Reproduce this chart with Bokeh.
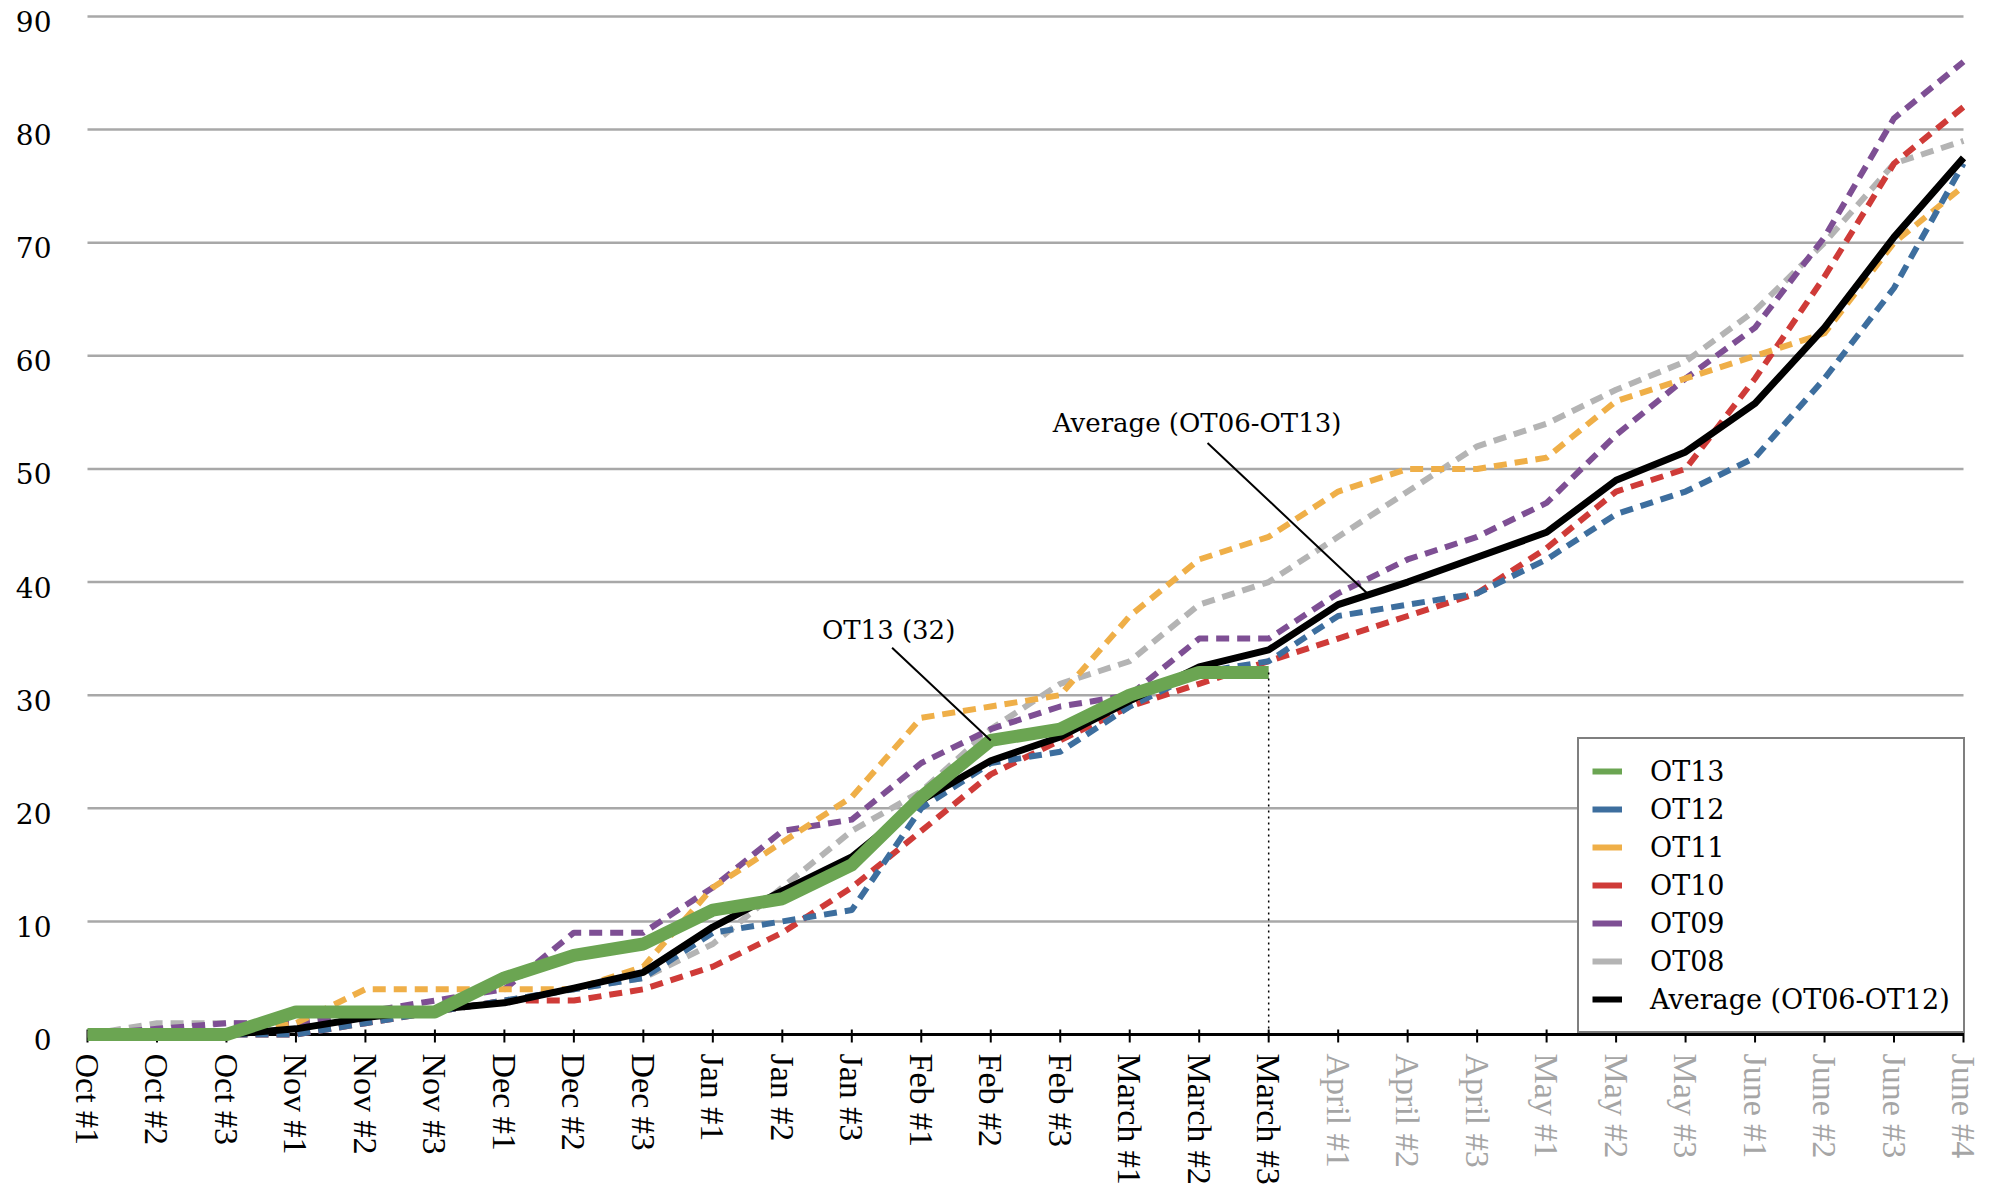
import math
from bokeh.plotting import figure
from bokeh.models import Range1d, Legend, LegendItem, Label, ColumnDataSource
from bokeh.core.properties import value
from bokeh.embed import file_html
from bokeh.resources import INLINE

# ---------------- data ----------------
labels = ["Oct #1", "Oct #2", "Oct #3", "Nov #1", "Nov #2", "Nov #3",
          "Dec #1", "Dec #2", "Dec #3", "Jan #1", "Jan #2", "Jan #3",
          "Feb #1", "Feb #2", "Feb #3", "March #1", "March #2", "March #3",
          "April #1", "April #2", "April #3", "May #1", "May #2", "May #3",
          "June #1", "June #2", "June #3", "June #4"]
n_past = 18  # labels up to March #3 are black, later ones grey

OT13 = [0, 0, 0, 2, 2, 2, 5, 7, 8, 11, 12, 15, 21, 26, 27, 30, 32, 32]
OT12 = [0, 0, 0, 0, 1, 2, 3, 4, 5, 9, 10, 11, 20, 24, 25, 29, 32, 33,
        37, 38, 39, 42, 46, 48, 51, 58, 66, 77]
OT11 = [0, 0, 0, 1, 4, 4, 4, 4, 6, 13, 17, 21, 28, 29, 30, 37, 42, 44,
        48, 50, 50, 51, 56, 58, 60, 62, 70, 75]
OT10 = [0, 0, 0, 0, 1, 2, 3, 3, 4, 6, 9, 13, 18, 23, 26, 29, 31, 33,
        35, 37, 39, 43, 48, 50, 58, 67, 77, 82]
OT09 = [0, 0.5, 1, 1, 2, 3, 4, 9, 9, 13, 18, 19, 24, 27, 29, 30, 35, 35,
        39, 42, 44, 47, 53, 58, 62.5, 70.5, 81, 86]
OT08 = [0, 1, 1, 1, 2, 2, 3, 4, 5, 8, 13, 18, 21.5, 27, 31, 33, 38, 40,
        44, 48, 52, 54, 57, 59.5, 64, 70, 77, 79]
AVG = [0, 0, 0, 0.5, 1.5, 2.2, 2.8, 4.1, 5.5, 9.5, 12.7, 15.7, 20.7, 24.2,
       26.3, 29.5, 32.5, 34, 38, 40, 42.2, 44.4, 49, 51.5, 55.8, 62.5, 70.5, 77.5]

y_ticks = list(range(0, 91, 10))
y_tick_labels = [str(t) for t in y_ticks]
y_max = 90

# ---------------- styles / layout ----------------
C_GREEN = "#6ba552"
C_BLUE = "#3d6e9e"
C_ORANGE = "#efaf48"
C_RED = "#cf3b38"
C_PURPLE = "#7e4f94"
C_GREY = "#b4b4b4"
C_GRID = "#a8a8a8"
C_LABEL_FUTURE = "#a5a5a5"
SERIF_G = "DejaVu Serif"
SERIF_T = "Liberation Serif"

W, H = 1984, 1191
X0, X1 = 87, 1963          # canvas x of first / last category
Y_TOP, Y_ZERO = 16, 1034   # canvas y of y_max / of zero
Y_LABEL_RIGHT = 51         # right edge of y tick labels
LEG_W = 386

x = list(range(len(labels)))
n_int = len(labels) - 1
ppu_x = (X1 - X0) / n_int
ppu_y = (Y_ZERO - Y_TOP) / y_max

p = figure(width=W, height=H, title=None,
           x_range=Range1d(-X0 / ppu_x, n_int + (W - X1) / ppu_x),
           y_range=Range1d(-(H - Y_ZERO) / ppu_y, y_max + Y_TOP / ppu_y),
           x_axis_location=None, y_axis_location=None,
           output_backend="svg", toolbar_location=None,
           min_border_left=0, min_border_right=0,
           min_border_top=0, min_border_bottom=0)
p.outline_line_color = None
p.background_fill_color = "white"
p.border_fill_color = "white"
p.grid.visible = False

# value labels
p.text(x=[(Y_LABEL_RIGHT - X0) / ppu_x] * len(y_ticks), y=y_ticks,
       text=y_tick_labels, y_offset=5,
       text_align="right", text_baseline="middle",
       text_font=value(SERIF_G), text_font_size=value("28px"),
       text_color="black")

# horizontal gridlines spanning the category extent
g = y_ticks[1:]
p.segment(x0=[0] * len(g), x1=[n_int] * len(g), y0=g, y1=g,
          line_color=C_GRID, line_width=2.5)

# category axis: line, ticks, labels
p.segment(x0=[0], y0=[0], x1=[n_int], y1=[0], line_color="black", line_width=3)
p.segment(x0=x, x1=x, y0=[-8 / ppu_y] * len(x), y1=[5 / ppu_y] * len(x),
          line_color="black", line_width=2)
label_colors = ["black" if i < n_past else C_LABEL_FUTURE for i in x]
src = ColumnDataSource(dict(x=x, y=[-19 / ppu_y] * len(x),
                            text=labels, color=label_colors))
p.text(x="x", y="y", text="text", source=src, angle=-math.pi / 2,
       text_align="left", text_baseline="middle",
       text_font=value(SERIF_T), text_font_size=value("34px"),
       text_color="color")

# dashed historical seasons
dashed = [(OT08, C_GREY), (OT09, C_PURPLE), (OT10, C_RED),
          (OT11, C_ORANGE), (OT12, C_BLUE)]
for vals, col in dashed:
    p.line(x[:len(vals)], vals, line_color=col, line_width=6,
           line_dash="13 8", line_join="round")

# average and current season
p.line(x[:len(AVG)], AVG, line_color="black", line_width=7, line_join="round")
p.line(x[:len(OT13)], OT13, line_color=C_GREEN, line_width=13, line_join="round")

# dotted marker at the current week
last = len(OT13) - 1
p.segment(x0=[last], y0=[0], x1=[last], y1=[OT13[last]],
          line_color="black", line_width=1.5, line_dash="2 4")

# callouts
p.add_layout(Label(x=11.53, y=35.8, text="OT13 (32)", text_align="center",
                   text_baseline="middle", text_font=SERIF_G,
                   text_font_size="26px", text_color="black"))
p.segment(x0=[11.58], y0=[34.2], x1=[13], y1=[OT13[13]],
          line_color="black", line_width=2)
p.add_layout(Label(x=15.97, y=54.1, text="Average (OT06-OT13)", text_align="center",
                   text_baseline="middle", text_font=SERIF_G,
                   text_font_size="26px", text_color="black"))
avg_x = 18.44
avg_y = AVG[18] + (AVG[19] - AVG[18]) * (avg_x - 18)
p.segment(x0=[16.12], y0=[52.3], x1=[avg_x], y1=[avg_y],
          line_color="black", line_width=2)

# legend (solid swatches)
legend_entries = [("OT13", C_GREEN), ("OT12", C_BLUE), ("OT11", C_ORANGE),
                  ("OT10", C_RED), ("OT09", C_PURPLE), ("OT08", C_GREY),
                  ("Average (OT06-OT12)", "black")]
nan = float("nan")
items = []
for lab, col in legend_entries:
    r = p.line(x=[0, 1], y=[nan, nan], line_color=col, line_width=6)
    items.append(LegendItem(label=lab, renderers=[r]))

legend = Legend(items=items, location=(X1 - LEG_W, H - Y_ZERO + 1),
                orientation="vertical",
                label_text_font=SERIF_G, label_text_font_size="27px",
                label_text_color="black",
                glyph_width=30, glyph_height=38, label_height=38,
                label_standoff=28, spacing=0, padding=13, margin=0,
                border_line_color="black", border_line_width=2,
                background_fill_color="white", background_fill_alpha=1.0)
p.add_layout(legend)

open("out.html", "w").write(file_html(p, INLINE))
